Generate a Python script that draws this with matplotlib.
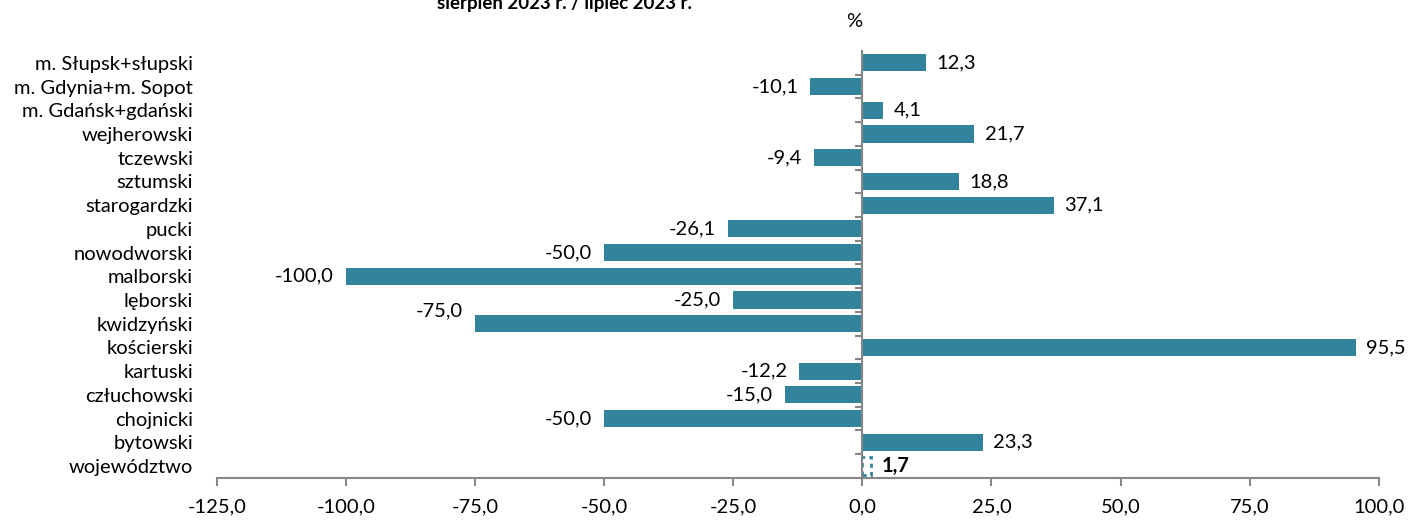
import matplotlib.pyplot as plt

# Dane
powiaty = ['województwo', 'bytowski', 'chojnicki', 'człuchowski', 'kartuski', 'kościerski',
           'kwidzyński', 'lęborski', 'malborski', 'nowodworski', 'pucki', 'starogardzki',
           'sztumski', 'tczewski', 'wejherowski', 'm. Gdańsk+gdański', 'm. Gdynia+m. Sopot',
           'm. Słupsk+słupski']
zmiana = [1.7, 23.3, -50.0, -15.0, -12.2, 95.5, -75.0, -25.0, -100.0, -50.0, -26.1, 37.1,
          18.8, -9.4, 21.7, 4.1, -10.1, 12.3]
x_ticks = [-125, -100, -75, -50, -25, 0, 25, 50, 75, 100]

kolor = '#31849B'
szary = '#868686'
fs = 14.5
plt.rcParams['font.family'] = ['Lato', 'DejaVu Sans']

fig = plt.figure(figsize=(14.17, 5.2), dpi=100)
ax = fig.add_axes([0.153, 0.081, 0.82, 0.821])

pos = list(range(len(powiaty)))
bars = ax.barh(pos, zmiana, height=0.72, color=kolor)
# wiersz województwo - inny styl
bars[0].set_facecolor('white')
bars[0].set_edgecolor(kolor)
bars[0].set_linestyle((0, (1.5, 1.5)))
bars[0].set_linewidth(2)

for i, v in enumerate(zmiana):
    txt = f'{v:.1f}'.replace('.', ',')
    dy = 0
    if powiaty[i] == 'kwidzyński':
        dy = 0.55
    if v >= 0:
        ax.text(v + 2.0, i + dy, txt, va='center', ha='left', fontsize=fs,
                fontweight='bold' if i == 0 else 'normal')
    else:
        ax.text(v - 2.3, i + dy, txt, va='center', ha='right', fontsize=fs)

ax.set_xlim(-125, 100)
ax.set_ylim(-0.5, len(powiaty) - 0.5)
ax.set_xticks(x_ticks)
ax.set_xticklabels([f'{t:.1f}'.replace('.', ',') for t in x_ticks])
ax.set_yticks(pos)
ax.set_yticklabels(powiaty)
ax.set_yticks([p + 0.5 for p in pos[:-1]], minor=True)

for s in ['top', 'left']:
    ax.spines[s].set_visible(False)
ax.spines['bottom'].set_color(szary)
ax.spines['bottom'].set_linewidth(1.5)
ax.spines['right'].set_position(('data', 0))
ax.spines['right'].set_color(szary)
ax.spines['right'].set_linewidth(1.5)

ax.tick_params(axis='x', colors=szary, length=6, width=1.5, labelcolor='black',
               labelsize=fs, pad=9)
ax.tick_params(axis='y', which='major', left=True, right=False, length=0, pad=17,
               labelsize=fs)
ax.tick_params(axis='y', which='minor', left=False, right=True, direction='in',
               length=5, width=1.5, colors=szary)

fig.text(0.603, 0.958, '%', ha='center', va='center', fontsize=fs)
fig.text(0.398, 0.994, 'sierpień 2023 r. / lipiec 2023 r.', ha='center', va='center',
         fontsize=13.5, fontweight='bold')

fig.savefig('out.png', dpi=100)
